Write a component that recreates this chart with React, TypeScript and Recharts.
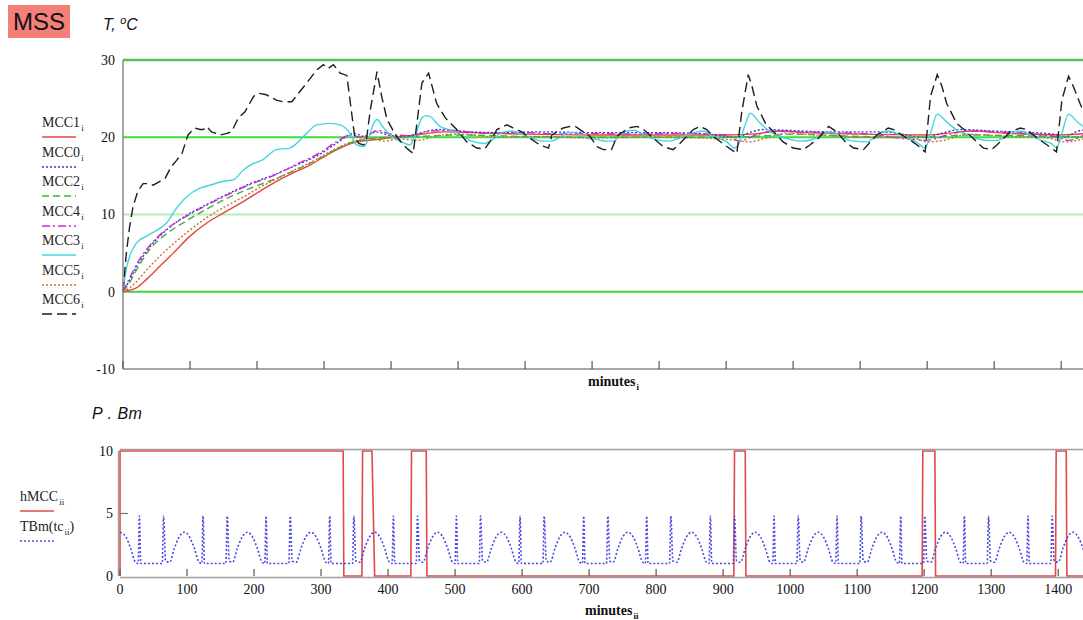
import { LineChart, Line, XAxis, YAxis, ReferenceLine, Legend } from 'recharts'

// x axis: minutes, shared by both panels
const minuteTicks = [0, 100, 200, 300, 400, 500, 600, 700, 800, 900, 1000, 1100, 1200, 1300, 1400]
const tempTicks = [-10, 0, 10, 20, 30]
const powerTicks = [0, 5, 10]
const setpointLevels = [30, 20, 10, 0]

// temperature traces, [minute, °C]
const mcc1 = [
  [0, 0], [10, 0.2], [20, 0.5], [35, 1.6], [55, 3.3], [75, 5], [100, 7.2], [125, 8.9], [150, 10.2], [180, 11.7],
  [204, 13], [229, 14.3], [254, 15.4], [279, 16.4], [304, 17.7], [329, 18.8], [349, 19.4], [379, 19.7], [403, 20],
  [428, 20.2], [455, 20.5], [478, 20.7], [520, 20.6], [600, 20.4], [700, 20.3], [800, 20.3], [900, 20.3], [940, 20.4],
  [980, 20.8], [1020, 20.6], [1100, 20.4], [1200, 20.3], [1240, 20.6], [1270, 20.8], [1320, 20.5], [1400, 20.3], [1440, 20.5],
]
const mcc0 = [
  [0, 0], [10, 1.5], [20, 3.2], [40, 5.8], [65, 8], [95, 9.9], [125, 11.3], [155, 12.6], [190, 14], [224, 15.1],
  [259, 16.4], [294, 17.8], [320, 19.3], [345, 20.5], [360, 20.1], [378, 20.7], [395, 20.3], [420, 20.1], [445, 20.6],
  [470, 21], [500, 20.8], [560, 20.6], [620, 20.7], [700, 20.6], [780, 20.6], [860, 20.5], [915, 20], [935, 20.6],
  [955, 21], [990, 20.9], [1050, 20.7], [1130, 20.7], [1200, 20], [1225, 20.6], [1250, 21], [1300, 20.8], [1390, 20.4],
  [1405, 20], [1425, 20.8], [1440, 21],
]
const mcc2 = [
  [0, 0], [10, 1.2], [20, 2.8], [40, 5.5], [65, 7.5], [95, 9.2], [125, 10.7], [155, 12.1], [190, 13.4], [224, 14.5],
  [259, 15.8], [294, 17.3], [329, 18.9], [349, 19.5], [370, 19.8], [400, 20], [440, 20.1], [500, 20.3], [600, 20.1],
  [700, 20], [800, 20], [900, 20], [960, 20.2], [1000, 20.4], [1100, 20.1], [1200, 20], [1260, 20.3], [1340, 20.2], [1440, 20],
]
const mcc4 = [
  [0, 0], [10, 1.8], [20, 3.5], [40, 6], [65, 8.1], [95, 9.8], [125, 11.2], [155, 12.5], [190, 13.9], [224, 15],
  [259, 16.5], [294, 18], [320, 19.5], [340, 20.3], [355, 20], [370, 20.5], [380, 20.9], [400, 20.4], [430, 20.2],
  [460, 20.8], [490, 20.9], [540, 20.5], [600, 20.6], [650, 20.4], [700, 20.5], [760, 20.4], [820, 20.5], [900, 20.3],
  [920, 19.5], [945, 20.3], [970, 20.8], [1000, 20.7], [1100, 20.5], [1200, 19.6], [1230, 20.3], [1260, 20.8],
  [1300, 20.7], [1390, 20.1], [1410, 19.6], [1440, 20.6],
]
const mcc3 = [
  [0, 0], [5, 3], [10, 4.6], [20, 6.3], [35, 7.2], [55, 8.2], [65, 8.9], [78, 10.6], [95, 12.3], [115, 13.4],
  [130, 13.8], [150, 14.3], [165, 14.5], [180, 15.8], [190, 16.4], [209, 17.1], [229, 18.4], [249, 18.6], [259, 19.2],
  [274, 20.5], [289, 21.6], [309, 21.8], [324, 21.6], [339, 20.5], [349, 19], [359, 18.8], [365, 19.5], [374, 21.8],
  [379, 22.3], [389, 21.2], [404, 19.9], [418, 19.3], [428, 19], [435, 20], [446, 22.5], [452, 22.8], [458, 22.7],
  [473, 21.4], [490, 20.9], [505, 20.3], [520, 19.5], [540, 19.2], [550, 19.6], [565, 20.6], [580, 20.8], [595, 20.4],
  [610, 19.9], [625, 19.5], [640, 19.5], [650, 19.9], [665, 20.6], [675, 20.6], [692, 19.9], [707, 19.7], [722, 19.5],
  [732, 19.5], [747, 20.7], [762, 20.9], [777, 20.3], [796, 19.7], [816, 19.5], [831, 19.9], [856, 20.7], [866, 20.8],
  [881, 20.1], [901, 19.4], [913, 18.6], [918, 19], [928, 21.5], [936, 23.1], [951, 21.8], [966, 20.7], [981, 20.1],
  [996, 19.7], [1015, 19.5], [1035, 19.9], [1050, 20.6], [1060, 20.6], [1075, 19.9], [1090, 19.5], [1110, 19.4],
  [1125, 20.2], [1142, 20.8], [1155, 20.5], [1170, 19.9], [1185, 19.3], [1197, 18.6], [1205, 20.5], [1215, 23],
  [1230, 21.9], [1245, 20.9], [1260, 20.3], [1275, 19.8], [1290, 19.6], [1305, 19.6], [1325, 20.5], [1340, 20.8],
  [1355, 20.2], [1370, 19.6], [1385, 19.2], [1393, 18.6], [1400, 20.2], [1411, 23], [1425, 21.9], [1440, 21],
]
const mcc5 = [
  [0, 0], [10, 0.5], [20, 1.3], [35, 2.8], [55, 4.6], [75, 6.2], [100, 8], [125, 9.6], [150, 10.9], [180, 12.3],
  [204, 13.5], [229, 14.6], [254, 15.7], [279, 16.7], [304, 17.9], [329, 19], [349, 19.6], [370, 19.9], [390, 19.5],
  [410, 19.8], [440, 19.6], [470, 20.2], [500, 20.4], [560, 20], [620, 20.1], [700, 19.9], [780, 20], [860, 19.9],
  [915, 19.6], [935, 19.4], [960, 19.9], [990, 20.5], [1030, 20.3], [1100, 20], [1180, 19.9], [1200, 19.4],
  [1225, 19.6], [1260, 20.4], [1300, 20.2], [1380, 19.9], [1405, 19.4], [1440, 19.9],
]
const mcc6 = [
  [0, 0], [5, 5], [10, 8.5], [15, 11], [22, 13], [30, 14], [38, 14], [45, 13.8], [55, 14.3], [63, 14.7], [72, 16.2],
  [80, 17], [88, 17.9], [97, 20.3], [107, 21.2], [115, 21], [120, 21], [125, 21.4], [132, 20.7], [145, 20.3],
  [155, 20.5], [162, 20.7], [172, 22.5], [182, 23.3], [195, 25.3], [202, 25.7], [214, 25.5], [229, 24.8], [239, 24.6],
  [252, 24.6], [262, 25.7], [274, 27], [289, 28.7], [299, 29.4], [306, 28.9], [314, 29.4], [324, 28.3], [334, 28],
  [346, 19.9], [352, 19.2], [359, 19], [363, 19.5], [369, 23.5], [379, 28.5], [386, 25.3], [394, 22.3], [408, 20.1],
  [423, 18.6], [433, 17.9], [446, 27], [456, 28.3], [468, 24.4], [481, 22.5], [498, 21], [513, 19.4], [528, 18.6],
  [540, 18.5], [548, 19.5], [558, 21], [573, 21.6], [582, 21.2], [595, 20.7], [607, 19.9], [622, 19], [635, 18.6],
  [640, 20.3], [657, 21.2], [667, 21.4], [675, 21.4], [687, 20.7], [697, 20.1], [707, 18.8], [717, 18.4], [729, 18.4],
  [737, 20.1], [754, 21.2], [767, 21.4], [777, 21], [791, 19.9], [806, 18.8], [821, 18.4], [831, 19.2], [851, 21],
  [861, 21.4], [871, 21], [881, 20.1], [901, 18.8], [916, 17.9], [923, 23.1], [933, 28.1], [938, 26.8], [946, 24],
  [960, 21.6], [971, 20.7], [985, 19.4], [1000, 18.6], [1015, 18.4], [1025, 19], [1038, 19.9], [1053, 21.4],
  [1065, 20.7], [1078, 19.4], [1090, 18.6], [1105, 18.4], [1113, 19.2], [1125, 20.3], [1142, 21.2], [1150, 21],
  [1162, 20.3], [1170, 19.9], [1185, 19], [1197, 18.1], [1205, 25.3], [1215, 28.1], [1222, 26.6], [1229, 24.4],
  [1244, 21.8], [1259, 20.7], [1274, 19.4], [1284, 18.6], [1296, 18.4], [1304, 19], [1324, 20.7], [1339, 21.2],
  [1349, 21], [1364, 19.9], [1379, 19], [1393, 18.1], [1401, 24.8], [1411, 27.9], [1418, 26.6], [1428, 24.4], [1440, 22],
]

// heater state, [minute, P]
const hMCC = [
  [0, 0], [0, 10], [333, 10], [334, 0], [361, 0], [362, 10], [376, 10], [380, 0], [434, 0], [435, 10], [457, 10],
  [458, 0], [916, 0], [917, 10], [933, 10], [934, 0], [1197, 0], [1198, 10], [1216, 10], [1217, 0], [1396, 0],
  [1397, 10], [1412, 10], [1413, 0], [1440, 0],
]

// TBm(tc), [minute, Bm]
const tbm = [
  [0, 3.5], [9, 3.1], [16, 2.2], [23, 1.1], [27, 1], [29, 4.8], [31, 1], [63, 1], [65, 4.8], [68, 1.2],
  [74, 1.1], [81, 2.2], [88, 3.1], [96, 3.5], [104, 3.1], [111, 2.2], [118, 1.1], [122, 1], [124, 4.8], [126, 1], [158, 1], [160, 4.8], [163, 1.2],
  [168, 1.1], [175, 2.2], [182, 3.1], [190, 3.5], [198, 3.1], [205, 2.2], [212, 1.1], [216, 1], [218, 4.8], [220, 1], [252, 1], [254, 4.8], [257, 1.2],
  [263, 1.1], [270, 2.2], [277, 3.1], [285, 3.5], [293, 3.1], [300, 2.2], [307, 1.1], [311, 1], [313, 4.8], [315, 1], [347, 1], [349, 4.8], [352, 1.2],
  [358, 1.1], [365, 2.2], [372, 3.1], [380, 3.5], [388, 3.1], [395, 2.2], [402, 1.1], [406, 1], [408, 4.8], [410, 1], [442, 1], [444, 4.8], [447, 1.2],
  [452, 1.1], [459, 2.2], [466, 3.1], [474, 3.5], [482, 3.1], [489, 2.2], [496, 1.1], [500, 1], [502, 4.8], [504, 1], [536, 1], [538, 4.8], [541, 1.2],
  [547, 1.1], [554, 2.2], [561, 3.1], [569, 3.5], [577, 3.1], [584, 2.2], [591, 1.1], [595, 1], [597, 4.8], [599, 1], [631, 1], [633, 4.8], [636, 1.2],
  [642, 1.1], [649, 2.2], [656, 3.1], [664, 3.5], [672, 3.1], [679, 2.2], [686, 1.1], [690, 1], [692, 4.8], [694, 1], [726, 1], [728, 4.8], [731, 1.2],
  [736, 1.1], [743, 2.2], [750, 3.1], [758, 3.5], [766, 3.1], [773, 2.2], [780, 1.1], [784, 1], [786, 4.8], [788, 1], [820, 1], [822, 4.8], [825, 1.2],
  [831, 1.1], [838, 2.2], [845, 3.1], [853, 3.5], [861, 3.1], [868, 2.2], [875, 1.1], [879, 1], [881, 4.8], [883, 1], [915, 1], [917, 4.8], [920, 1.2],
  [926, 1.1], [933, 2.2], [940, 3.1], [948, 3.5], [956, 3.1], [963, 2.2], [970, 1.1], [974, 1], [976, 4.8], [978, 1], [1010, 1], [1012, 4.8], [1015, 1.2],
  [1020, 1.1], [1027, 2.2], [1034, 3.1], [1042, 3.5], [1050, 3.1], [1057, 2.2], [1064, 1.1], [1068, 1], [1070, 4.8], [1072, 1], [1104, 1], [1106, 4.8], [1109, 1.2],
  [1115, 1.1], [1122, 2.2], [1129, 3.1], [1137, 3.5], [1145, 3.1], [1152, 2.2], [1159, 1.1], [1163, 1], [1165, 4.8], [1167, 1], [1199, 1], [1201, 4.8], [1204, 1.2],
  [1210, 1.1], [1217, 2.2], [1224, 3.1], [1232, 3.5], [1240, 3.1], [1247, 2.2], [1254, 1.1], [1258, 1], [1260, 4.8], [1262, 1], [1294, 1], [1296, 4.8], [1299, 1.2],
  [1305, 1.1], [1312, 2.2], [1319, 3.1], [1327, 3.5], [1335, 3.1], [1342, 2.2], [1349, 1.1], [1353, 1], [1355, 4.8], [1357, 1], [1389, 1], [1391, 4.8], [1394, 1.2],
  [1400, 1.1], [1407, 2.2], [1414, 3.1], [1422, 3.5], [1430, 3.1], [1437, 2.2], [1440, 1.7],
]

const toPoints = (pairs: number[][]) => pairs.map(([m, v]) => ({ m, v }))

const tempSeries = [
  { name: 'MCC1', data: mcc1, color: '#e8443c', dash: undefined, width: 1.4, curve: 'monotone' },
  { name: 'MCC0', data: mcc0, color: '#3838d0', dash: '2 2', width: 1.4, curve: 'monotone' },
  { name: 'MCC2', data: mcc2, color: '#3cb43c', dash: '7 4', width: 1.4, curve: 'monotone' },
  { name: 'MCC4', data: mcc4, color: '#d028d0', dash: '8 3 2 3', width: 1.4, curve: 'monotone' },
  { name: 'MCC3', data: mcc3, color: '#44d4e0', dash: undefined, width: 1.4, curve: 'monotone' },
  { name: 'MCC5', data: mcc5, color: '#c8703a', dash: '2 2', width: 1.4, curve: 'monotone' },
  { name: 'MCC6', data: mcc6, color: '#1e1e1e', dash: '10 5', width: 1.4, curve: 'linear' },
]

const setpointColors = ['#58bd58', '#3ede3e', '#b4f2b4', '#3fd23f']

const serif = '"Liberation Serif", "Times New Roman", serif'
const sans = '"Liberation Sans", Arial, sans-serif'

const Sub = ({ children }: { children: string }) => (
  <span style={{ fontSize: 9, position: 'relative', top: 4, marginLeft: 1 }}>{children}</span>
)

const LegendRow = ({ label, sub, color, dash, width }: any) => (
  <div style={{ position: 'relative', height: 29.5 }}>
    <div style={{ lineHeight: '16px', whiteSpace: 'nowrap' }}>
      {label}
      <Sub>{sub}</Sub>
    </div>
    <svg width={40} height={6} style={{ position: 'absolute', left: 0, top: 19 }}>
      <line x1={0} x2={34} y1={3} y2={3} stroke={color} strokeWidth={width} strokeDasharray={dash} />
    </svg>
  </div>
)

const TempLegend = () => (
  <div style={{ fontFamily: serif, fontSize: 14, color: '#222' }}>
    {tempSeries.map(s => (
      <LegendRow key={s.name} label={s.name} sub="i" color={s.color} dash={s.dash} width={s.width} />
    ))}
  </div>
)

const PowerLegend = () => (
  <div style={{ fontFamily: serif, fontSize: 14, color: '#222' }}>
    <LegendRow label="hMCC" sub="ii" color="#e04a4a" width={1.6} />
    <div style={{ position: 'relative', height: 29.5 }}>
      <div style={{ lineHeight: '16px', whiteSpace: 'nowrap' }}>
        TBm(tc<Sub>ii</Sub>)
      </div>
      <svg width={40} height={6} style={{ position: 'absolute', left: 0, top: 19 }}>
        <line x1={0} x2={34} y1={3} y2={3} stroke="#4a4ae0" strokeWidth={1.6} strokeDasharray="2 2" />
      </svg>
    </div>
  </div>
)

// short tick marks pointing into the plot from a border
const innerTick = (dir: number) => (props: any) => (
  <line x1={props.x} x2={props.x} y1={props.y} y2={props.y + dir * 8} stroke="#555" strokeWidth={1.2} />
)

const labelledTick = (props: any) => (
  <g>
    <line x1={props.x} x2={props.x} y1={props.y} y2={props.y - 7} stroke="#555" strokeWidth={1.2} />
    <text x={props.x} y={props.y + 18} textAnchor="middle" fontFamily={serif} fontSize={14} fill="#111">
      {props.payload.value}
    </text>
  </g>
)

// left axis label plus a short inward tick
const powerYTick = (props: any) => (
  <g>
    {props.payload.value === 5 && (
      <line x1={props.x} x2={props.x + 8} y1={props.y} y2={props.y} stroke="#777" strokeWidth={1.2} />
    )}
    <text x={props.x - 7} y={props.y} dy="0.35em" textAnchor="end" fontFamily={serif} fontSize={14} fill="#111">
      {props.payload.value}
    </text>
  </g>
)

const yTickStyle = { fontFamily: serif, fontSize: 14, fill: '#111' }

// frame lines of the lower panel sit just outside the plot so the heater trace stays visible
const frameLine = (dx: number, dy: number) => ({ stroke: '#a0a0a0', strokeWidth: 1.5, transform: `translate(${dx},${dy})` })

export default function App() {
  return (
    <div style={{ position: 'fixed', left: 0, top: 0, width: 1083, height: 620, overflow: 'hidden', background: '#fff' }}>
      <div style={{ position: 'absolute', left: 8, top: 5, width: 62, height: 33, background: '#f47e78', fontFamily: sans, fontSize: 24, lineHeight: '33px', textAlign: 'center', color: '#111' }}>
        MSS
      </div>
      <div style={{ position: 'absolute', left: 103, top: 14, fontFamily: sans, fontStyle: 'italic', fontSize: 16, color: '#111' }}>
        T, <sup style={{ fontSize: 11 }}>o</sup>C
      </div>
      <div style={{ position: 'absolute', left: 92, top: 405, fontFamily: sans, fontStyle: 'italic', fontSize: 16, color: '#111', letterSpacing: 0.5 }}>
        P . Bm
      </div>
      <div style={{ position: 'absolute', left: 588, top: 374, fontFamily: serif, fontWeight: 'bold', fontSize: 14, color: '#111' }}>
        minutes<Sub>i</Sub>
      </div>
      <div style={{ position: 'absolute', left: 585, top: 603, fontFamily: serif, fontWeight: 'bold', fontSize: 14, color: '#111' }}>
        minutes<Sub>ii</Sub>
      </div>

      <div style={{ position: 'absolute', left: 0, top: 0 }}>
        <LineChart width={1100} height={400} margin={{ top: 59, right: 12, bottom: 30, left: 83 }}>
          <XAxis dataKey="m" type="number" domain={[0, 1440]} ticks={minuteTicks} height={1}
            axisLine={{ stroke: '#8a8a8a', strokeWidth: 1.5 }} tickLine={false} tickSize={0} tickMargin={0} tick={innerTick(-1)} />
          <XAxis xAxisId="top" orientation="top" dataKey="m" type="number" domain={[0, 1440]} ticks={minuteTicks} height={1}
            axisLine={false} tickLine={false} tickSize={0} tickMargin={0} tick={innerTick(1)} />
          <YAxis type="number" domain={[-10, 30]} ticks={tempTicks} width={40} interval={0}
            axisLine={{ stroke: '#8a8a8a', strokeWidth: 1.5 }} tickLine={false} tickSize={0} tickMargin={8} tick={yTickStyle} />
          {setpointLevels.map((lvl, i) => (
            <ReferenceLine key={lvl} y={lvl} stroke={setpointColors[i]} strokeWidth={i === 0 ? 2.5 : 2} />
          ))}
          {tempSeries.map(s => (
            <Line key={s.name} name={s.name} data={toPoints(s.data)} dataKey="v" type={s.curve as any}
              stroke={s.color} strokeWidth={s.width} strokeDasharray={s.dash} dot={false} isAnimationActive={false} />
          ))}
          <Legend layout="vertical" align="center" verticalAlign="middle" content={<TempLegend />}
            wrapperStyle={{ left: 42, top: 115, width: 70 }} />
        </LineChart>
      </div>

      <div style={{ position: 'absolute', left: 0, top: 400 }}>
        <LineChart width={1100} height={220} margin={{ top: 50, right: 15, bottom: 14, left: 80 }}>
          <XAxis dataKey="m" type="number" domain={[0, 1440]} ticks={minuteTicks} height={30}
            axisLine={frameLine(0, 1.5)} tickLine={false} tickSize={0} tickMargin={0} tick={labelledTick} />
          <XAxis xAxisId="top" orientation="top" dataKey="m" type="number" domain={[0, 1440]} ticks={minuteTicks} height={1}
            axisLine={frameLine(0, -1.5)} tickLine={false} tickSize={0} tickMargin={0} tick={innerTick(1)} />
          <YAxis type="number" domain={[0, 10]} ticks={powerTicks} width={40} interval={0}
            axisLine={frameLine(-1.5, 0)} tickLine={false} tickSize={0} tickMargin={0} tick={powerYTick} />
          <Line name="hMCC" data={toPoints(hMCC)} dataKey="v" type="linear" stroke="#e04a4a" strokeWidth={1.6}
            dot={false} isAnimationActive={false} />
          <Line name="TBm" data={toPoints(tbm)} dataKey="v" type="monotone" stroke="#4a4ae0" strokeWidth={1.6}
            strokeDasharray="2 2" dot={false} isAnimationActive={false} />
          <Legend layout="vertical" align="center" verticalAlign="middle" content={<PowerLegend />}
            wrapperStyle={{ left: 20, top: 89, width: 80 }} />
        </LineChart>
      </div>
    </div>
  )
}
